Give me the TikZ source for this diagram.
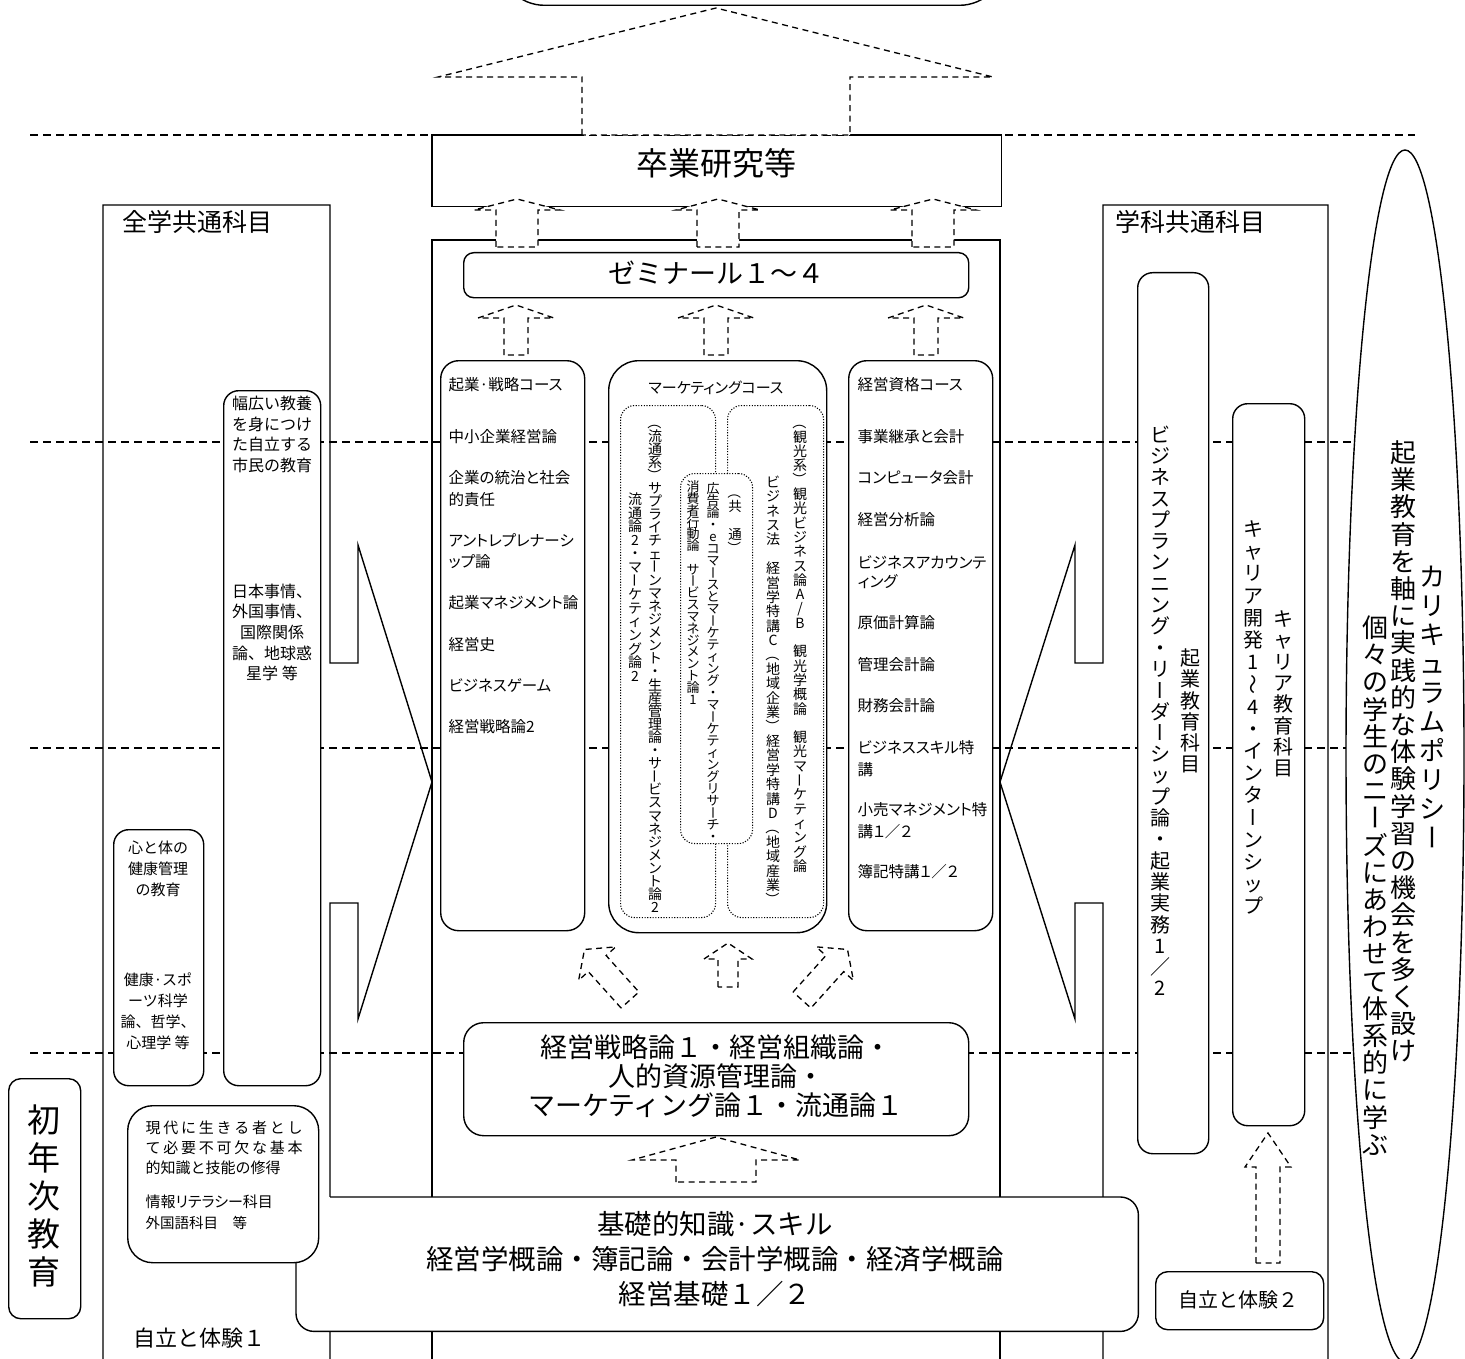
\documentclass[tikz,border=0pt]{standalone}
\usepackage{fontspec}
\setmainfont{Noto Sans CJK JP}
\newfontfamily\crsfont{Noto Sans CJK JP}[RawFeature=+palt]
\usepackage{graphicx}
\usetikzlibrary{shapes.geometric}

\ExplSyntaxOn
\cs_new_protected:Npn \vtc_rot:n #1
  {
    \rotatebox[origin=c]{-90}{\hbox to 1em{\vrule height .88em depth .12em width 0pt \hss #1 \hss}}
  }
\cs_new_protected:Npn \vtc_char:n #1
  {
    \str_case:nnF {#1}
      {
        {ー}{\vtc_rot:n {ー}}
        {～}{\vtc_rot:n {～}}
        {（}{\vtc_rot:n {（}}
        {）}{\vtc_rot:n {）}}
      }
      {#1}
  }
\NewDocumentCommand \vt { m m }
  {
    \vtop
      {
        \baselineskip=#1 \relax
        \lineskiplimit=-\maxdimen
        \lineskip=0pt \relax
        \tl_map_inline:nn {#2}
          { \hbox to 1em { \hss \vtc_char:n {##1} \hss } }
      }
  }
\NewDocumentCommand \spreadto { m m }
  {
    \hbox to #1
      { \tl_map_inline:nn {#2} { ##1 \hfil } \unskip }
  }
\ExplSyntaxOff

\newcommand\dshArrow[7]{%
  \draw[darr,shift={(#1,#2)},rotate=#3]
    (-#7,0) -- (-#7,{-#4+#5}) -- (-#6,{-#4+#5}) -- (0,-#4) -- (#6,{-#4+#5}) -- (#7,{-#4+#5}) -- (#7,0) -- cycle;}

\begin{document}
\begin{tikzpicture}[x=1pt,y=-1pt,line width=1.4pt,
  dline/.style={line width=1.3pt,dash pattern=on 8pt off 5pt},
  darr/.style={line width=1.3pt,dash pattern=on 6pt off 4.5pt,fill=white},
  rbox/.style={draw,fill=white,rounded corners=#1,inner sep=0,anchor=north west},
  rbox/.default=15,
  dotbox/.style={draw,rounded corners=14,line width=1.1pt,dash pattern=on 1.1pt off 1.6pt,inner sep=0,anchor=north west},
  crs/.style={anchor=west,inner sep=0,font=\crsfont\fontsize{15.5}{17}\selectfont},
  vcol/.style={anchor=north,inner sep=0},
  lbl/.style={anchor=west,inner sep=0},
  ]
\useasboundingbox (0,0) rectangle (1465,1359);

% long dashed level lines
\foreach \yy [count=\i] in {135,442,748,1053}{
  \coordinate (dl\i a) at (30,\yy);
  \coordinate (dl\i b) at (1415,\yy);
  \draw[dline] (dl\i a) -- (dl\i b);
}

% frames
\draw (103,1359) -- (103,205) -- (330,205) -- (330,663) -- (358,663) -- (358,545)
      -- (432,782) -- (358,1019) -- (358,903) -- (330,903) -- (330,1359);
\draw (1328,1359) -- (1328,205) -- (1103,205) -- (1103,663) -- (1075,663) -- (1075,545)
      -- (1000,782) -- (1075,1019) -- (1075,903) -- (1103,903) -- (1103,1359);
\draw (432,1359) -- (432,240) -- (1000,240) -- (1000,1359);

% graduation research box
\node[inner sep=0,anchor=north west,minimum width=568,minimum height=70,fill=white] (sotsu) at (432,135) {};
\draw (582,135) -- (sotsu.north west) -- (sotsu.south west) -- (sotsu.south east) -- (sotsu.north east) -- (850,135);
\node[inner sep=0,font=\fontsize{32}{33}\selectfont] (sotsuT) at (716,163) {卒業研究等};

% top shape (cut off) and big arrow
\node[draw,fill=white,rounded corners=45,minimum width=505,minimum height=200,inner sep=0,anchor=south] (topE) at (752,6) {};
\draw[darr] (582,135) -- (582,77) -- (438,77) -- (716,8) -- (993,77) -- (850,77) -- (850,135) -- cycle;

% seminar
\node[rbox=10,minimum width=505,minimum height=45] (zemi) at (463,252) {};
\node[inner sep=0,font=\fontsize{27}{28}\selectfont] (zemiT) at (716,273) {ゼミナール１～４};

% arrows seminar -> graduation
\dshArrow{517}{247}{0}{48}{11}{43}{21}
\dshArrow{718}{247}{0}{48}{11}{42}{21}
\dshArrow{933}{247}{0}{48}{11}{43}{21}
% arrows courses -> seminar
\dshArrow{516}{355}{0}{50}{13}{38}{12}
\dshArrow{716}{355}{0}{50}{13}{38}{12}
\dshArrow{926}{355}{0}{50}{13}{38}{12}

% course boxes
\node[rbox=18,minimum width=144,minimum height=570] (kigyo) at (440,360) {};
\node[rbox=30,minimum width=218,minimum height=572] (mkt) at (608,360) {};
\node[rbox=18,minimum width=144,minimum height=570] (shikaku) at (848,360) {};
\node[dotbox,minimum width=95,minimum height=512] (dL) at (620,405) {};
\node[dotbox,minimum width=96,minimum height=512] (dR) at (727,405) {};
\node[dotbox,fill=white,minimum width=72,minimum height=370] (dC) at (680,473) {};

\foreach \t/\yy [count=\i] in {起業·戦略コース/385,中小企業経営論/437,企業の統治と社会/478,的責任/500,アントレプレナーシ/540,ップ論/562,起業マネジメント論/603,経営史/645,ビジネスゲーム/686,経営戦略論2/727}
  \node[crs] (ki\i) at (448,\yy) {\t};
\foreach \t/\yy [count=\i] in {経営資格コース/385,事業継承と会計/437,コンピュータ会計/478,経営分析論/520,ビジネスアカウンテ/562,ィング/582,原価計算論/623,管理会計論/665,財務会計論/706,ビジネススキル特/748,講/770,小売マネジメント特/810,講１／２/832,簿記特講１／２/872}
  \node[crs] (sk\i) at (857,\yy) {\t};
\node[inner sep=0,font=\crsfont\fontsize{15}{16}\selectfont] (mktT) at (716,388) {マーケティングコース};

\node[vcol] (mA) at (655,415) {\fontsize{14}{14}\selectfont\vt{13.1pt}{（流通系）サプライチェーンマネジメント・生産管理論・サービスマネジメント論2}};
\node[vcol] (mB) at (635,492) {\fontsize{14}{14}\selectfont\vt{13.6pt}{流通論2・マーケティング論2}};
\node[vcol] (mC) at (735,485) {\fontsize{13.5}{14}\selectfont\vt{14pt}{（共　通）}};
\node[vcol] (mD) at (713,482) {\fontsize{13}{13}\selectfont\vt{12pt}{広告論・eコマースとマーケティング・マーケティングリサーチ・}};
\node[vcol] (mE) at (693,480) {\fontsize{13}{13}\selectfont\vt{11.8pt}{消費者行動論　サービスマネジメント論1}};
\node[vcol] (mF) at (800,415) {\fontsize{14}{14}\selectfont\vt{14.3pt}{（観光系）観光ビジネス論A/B　観光学概論　観光マーケティング論}};
\node[vcol] (mG) at (773,475) {\fontsize{14}{14}\selectfont\vt{14.4pt}{ビジネス法　経営学特講C（地域企業）経営学特講D（地域産業）}};

% arrows core -> courses
\dshArrow{630}{1000}{42}{68}{19}{25}{12}
\dshArrow{728}{987}{0}{44}{16}{24}{10}
\dshArrow{802}{1000}{-42}{68}{19}{25}{12}

% core box
\node[rbox=20,minimum width=505,minimum height=113] (keiei) at (463,1022) {};
\node[inner sep=0,align=center,font=\fontsize{27}{29}\selectfont] (keieiT) at (716,1076) {経営戦略論１・経営組織論・\\人的資源管理論・\\マーケティング論１・流通論１};

% basic box
\node[inner sep=0,anchor=north west,minimum width=841,minimum height=133] (kiso) at (296,1197) {};
\fill[white,rounded corners=18] (kiso.north west) rectangle (kiso.south east);
\draw[rounded corners=18] (330,1197) -- (kiso.north east) -- (kiso.south east) -- (kiso.south west) -- (296,1262);
\node[inner sep=0,align=center,font=\fontsize{27.5}{35}\selectfont] (kisoT) at (715,1259) {基礎的知識·スキル\\経営学概論・簿記論・会計学概論・経済学概論\\経営基礎１／２};
\dshArrow{716}{1182}{0}{45}{23}{84}{40}

% left column boxes
\node[rbox=15,minimum width=97,minimum height=695] (haba) at (223,390) {};
\node[inner sep=0,align=center,font=\fontsize{16}{20.6}\selectfont] (habaT1) at (272,434.5) {幅広い教養\\を身につけ\\た自立する\\市民の教育};
\node[inner sep=0,align=center,font=\fontsize{16}{20.6}\selectfont] (habaT2) at (272,632.5) {日本事情、\\外国事情、\\国際関係\\論、地球惑\\星学 等};
\node[rbox=15,minimum width=90,minimum height=256] (kokoro) at (113,829) {};
\node[inner sep=0,align=center,font=\fontsize{15}{21}\selectfont] (kokoT1) at (158,869) {心と体の\\健康管理\\の教育};
\node[inner sep=0,align=center,font=\fontsize{15}{21}\selectfont] (kokoT2) at (158,1011) {健康·スポ\\ーツ科学\\論、哲学、\\心理学 等};
\node[rbox=25,minimum width=191,minimum height=157] (gendai) at (127,1105) {};
\node[lbl,font=\fontsize{15}{16}\selectfont] (g1) at (145,1128) {\spreadto{157pt}{現代に生きる者とし}};
\node[lbl,font=\fontsize{15}{16}\selectfont] (g2) at (145,1148) {\spreadto{157pt}{て必要不可欠な基本}};
\node[lbl,font=\fontsize{15}{16}\selectfont] (g3) at (145,1168) {的知識と技能の修得};
\node[lbl,font=\crsfont\fontsize{15}{16}\selectfont] (g4) at (145,1202) {情報リテラシー科目};
\node[lbl,font=\fontsize{14.5}{16}\selectfont] (g5) at (145,1223) {外国語科目　等};

\node[lbl,font=\fontsize{25}{26}\selectfont] (zengakuT) at (122,222) {全学共通科目};
\node[lbl,font=\fontsize{25}{26}\selectfont] (gakkaT) at (1115,222) {学科共通科目};
\node[lbl,font=\fontsize{22}{24}\selectfont] (jiritsu1) at (133,1338) {自立と体験１};

\node[rbox=12,minimum width=72,minimum height=240] (shonen) at (8,1078) {};
\node[vcol] (shonenT) at (44,1104) {\fontsize{33}{33}\selectfont\vt{38pt}{初年次教育}};

% right column boxes
\node[rbox=15,minimum width=71,minimum height=881] (biz) at (1137,272) {};
\node[vcol] (bizA) at (1160,425) {\fontsize{20}{20}\selectfont\vt{21.3pt}{ビジネスプランニング・リーダーシップ論・起業実務1／2}};
\node[vcol] (bizT) at (1190,648) {\fontsize{20}{20}\selectfont\vt{21.3pt}{起業教育科目}};
\node[rbox=15,minimum width=72,minimum height=722] (car) at (1232,403) {};
\node[vcol] (carA) at (1253,520) {\fontsize{20}{20}\selectfont\vt{22.2pt}{キャリア開発1～4・インターンシップ}};
\node[vcol] (carT) at (1283,610) {\fontsize{20}{20}\selectfont\vt{21.3pt}{キャリア教育科目}};
\dshArrow{1268}{1263}{0}{130}{34}{23}{12}
\node[rbox=12,minimum width=168,minimum height=58] (jiritsu2) at (1155,1271) {};
\node[inner sep=0,font=\fontsize{20}{22}\selectfont] (jiritsu2T) at (1238,1300) {自立と体験２};

% curriculum policy ellipse
\node[draw,ellipse,fill=white,minimum width=118,minimum height=1212,inner sep=0] (cpE) at (1405,756) {};
\node[vcol] (cp1) at (1432,565) {\fontsize{26}{26}\selectfont\vt{29pt}{カリキュラムポリシー}};
\node[vcol] (cp2) at (1403,440) {\fontsize{26}{26}\selectfont\vt{27.2pt}{起業教育を軸に実践的な体験学習の機会を多く設け}};
\node[vcol] (cp3) at (1375,615) {\fontsize{26}{26}\selectfont\vt{27.2pt}{個々の学生のニーズにあわせて体系的に学ぶ}};
\end{tikzpicture}
\end{document}
